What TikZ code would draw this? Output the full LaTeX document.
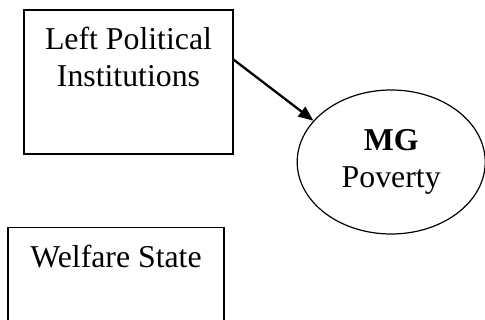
\documentclass[tikz,border=0pt]{standalone}
\usepackage{fontspec}
\setmainfont{Liberation Serif}
\usetikzlibrary{shapes.geometric,positioning,arrows.meta}
\tikzset{
	caja/.style={rectangle, draw, line width=1.2pt, minimum width=209pt,
		minimum height=144pt, inner sep=0pt},
	etiqueta/.style={anchor=north, align=center, inner sep=0pt,
		font=\fontsize{31.8}{37}\selectfont},
	elipse/.style={ellipse, draw, line width=1.2pt, minimum width=188pt,
		minimum height=144pt, inner sep=0pt, align=center,
		font=\fontsize{31.8}{37}\selectfont},
	flecha/.style={line width=2.3pt, -{Triangle[length=15pt,width=12pt]}}
}
\begin{document}
\begin{tikzpicture}
			\clip (0,0) rectangle (485pt,-320pt);
			\node[caja, label={[etiqueta, yshift=-17.5pt]north:{Left Political\\Institutions}}]
				(lpi) at (128.5pt,-82pt) {};
			
			\node[elipse, right=63pt of lpi, yshift=-80pt] (mg) {\textbf{MG}\\Poverty};
			
			\node[caja, minimum width=216pt, below=72pt of lpi, xshift=-12.5pt,
				label={[etiqueta, yshift=-18.5pt]north:Welfare State}] (ws) {};
			
			\draw[flecha] (lpi.12.9) -- (mg.152.8);
		\end{tikzpicture}
\end{document}
